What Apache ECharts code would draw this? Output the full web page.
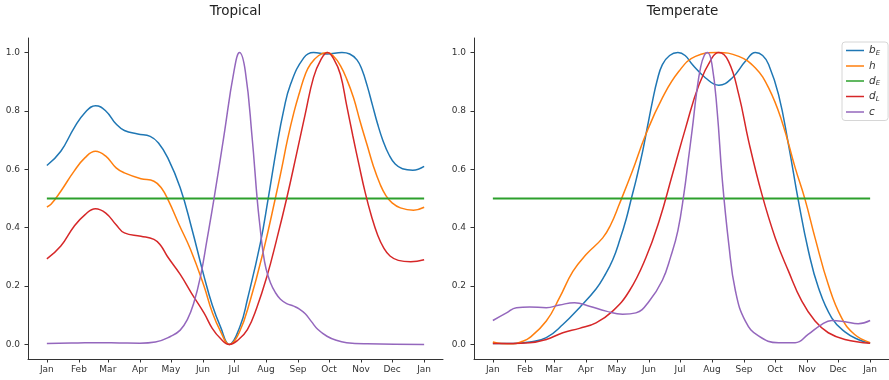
<!DOCTYPE html>
<html>
<head>
<meta charset="utf-8">
<script src="https://cdn.jsdelivr.net/npm/echarts@6/dist/echarts.min.js"></script>
<style>
  html, body { margin: 0; padding: 0; background: #fff; }
  #chart { width: 889px; height: 380px; }
</style>
</head>
<body>
<div id="chart"></div>
<script>
// x is day of year, ticks at month starts
const monthDays = [0, 31, 59, 90, 120, 151, 181, 212, 243, 273, 304, 334, 365]
const monthNames = ['Jan', 'Feb', 'Mar', 'Apr', 'May', 'Jun', 'Jul', 'Aug', 'Sep', 'Oct', 'Nov', 'Dec', 'Jan']
const yTicks = [0, 0.2, 0.4, 0.6, 0.8, 1.0]
const panelTitles = ['Tropical', 'Temperate']
const seriesNames = ['b_E', 'h', 'd_E', 'd_L', 'c']
const colors = ['#1f77b4', '#ff7f0e', '#2ca02c', '#d62728', '#9467bd']

// Tropical
const tropBE = [[0, 0.613], [13.5, 0.662], [26.4, 0.742], [37, 0.795], [47, 0.818], [57, 0.80], [67, 0.755], [75, 0.733],
  [88, 0.721], [100, 0.713], [108, 0.69], [117, 0.639], [129, 0.537], [140, 0.40], [152, 0.234], [160, 0.135], [168, 0.06],
  [176.5, 0], [187, 0.063], [194, 0.154], [206.6, 0.348], [214, 0.497], [222.8, 0.685], [229, 0.80], [235.6, 0.89],
  [248.5, 0.982], [258, 1.0], [271, 0.995], [285.5, 1.0], [293, 0.995], [300, 0.975], [305, 0.94], [310, 0.885],
  [315, 0.82], [320, 0.755], [325, 0.70], [331, 0.65], [337, 0.618], [344, 0.602], [354, 0.597], [365, 0.61]]
const tropH = [[0, 0.471], [4, 0.48], [13.5, 0.525], [26.4, 0.594], [37, 0.64], [47, 0.662], [57, 0.645], [67, 0.605],
  [75, 0.588], [91, 0.568], [103.6, 0.559], [111, 0.535], [118, 0.49], [128, 0.41], [139, 0.325], [152, 0.2], [160, 0.11],
  [168, 0.045], [176.5, 0], [186, 0.04], [197, 0.154], [209.8, 0.325], [221, 0.50], [227, 0.60], [233, 0.705],
  [239, 0.795], [245, 0.87], [250, 0.925], [255, 0.96], [263, 0.99], [271, 1.0], [278, 0.985], [284, 0.955],
  [290, 0.91], [296.7, 0.845], [303, 0.765], [309.7, 0.685], [316, 0.61], [322.5, 0.548], [328, 0.51], [334, 0.485],
  [342, 0.468], [354.7, 0.46], [365, 0.47]]
const tropDE = [[0, 0.5], [365, 0.5]]
const tropDL = [[0, 0.293], [13.5, 0.337], [26.4, 0.405], [37, 0.445], [47, 0.465], [57, 0.45], [67, 0.41], [75, 0.382],
  [91, 0.371], [103.6, 0.36], [110, 0.34], [116.5, 0.302], [129, 0.24], [140, 0.175], [152, 0.108], [160, 0.055],
  [168, 0.02], [176.5, 0], [185, 0.015], [194, 0.051], [203, 0.125], [213, 0.234], [222, 0.355], [232, 0.50],
  [242, 0.66], [250, 0.79], [258, 0.915], [265, 0.975], [271.5, 1.0], [278, 0.975], [284, 0.925], [290, 0.82],
  [296, 0.715], [302, 0.615], [308, 0.52], [314, 0.44], [320, 0.375], [326, 0.33], [332, 0.303], [340, 0.288],
  [352, 0.283], [365, 0.29]]
const tropC = [[0, 0.003], [30, 0.005], [50, 0.006], [70, 0.005], [90, 0.004], [105, 0.008], [120, 0.028], [129, 0.049],
  [136, 0.086], [142, 0.14], [148.7, 0.234], [155, 0.36], [161.6, 0.497], [171, 0.708], [181, 0.936], [186.4, 1.0],
  [192, 0.936], [198.6, 0.708], [203.5, 0.497], [206, 0.41], [209, 0.32], [212, 0.26], [216.3, 0.211], [221, 0.178],
  [226, 0.155], [232, 0.14], [238.8, 0.131], [244, 0.122], [250, 0.105], [256, 0.078], [262, 0.052], [271, 0.028],
  [280, 0.014], [290, 0.006], [310, 0.002], [365, 0.0]]

// Temperate
const tempBE = [[0, 0.003], [20, 0.003], [35.6, 0.008], [51.7, 0.023], [67.7, 0.068], [83.8, 0.126], [99.8, 0.19],
  [108, 0.235], [116, 0.29], [123, 0.36], [129, 0.43], [134, 0.50], [139, 0.57], [144.8, 0.66], [149.5, 0.745],
  [154.4, 0.833], [159, 0.905], [164, 0.959], [171, 0.99], [179, 1.0], [186, 0.99], [193, 0.959], [205.8, 0.913],
  [218.6, 0.888], [231.5, 0.913], [244.3, 0.97], [254, 1.0], [261, 0.99], [266.8, 0.959], [276.4, 0.856], [286, 0.685],
  [295.7, 0.49], [305.3, 0.32], [315, 0.194], [327.8, 0.091], [340.6, 0.043], [353.4, 0.017], [365, 0.004]]
const tempH = [[0, 0.008], [8, 0.003], [19.6, 0.002], [28, 0.01], [35.6, 0.023], [51.7, 0.08], [64.5, 0.16], [77.4, 0.25],
  [90.2, 0.308], [106.3, 0.365], [114, 0.41], [122.3, 0.48], [135, 0.594], [148, 0.72], [164, 0.845], [180, 0.936],
  [196, 0.987], [217, 1.0], [237.9, 0.987], [254, 0.947], [266.8, 0.879], [279.6, 0.765], [292.5, 0.605], [302, 0.497],
  [311.7, 0.365], [324.5, 0.205], [337.4, 0.091], [350, 0.034], [365, 0.006]]
const tempDE = [[0, 0.5], [365, 0.5]]
const tempDL = [[0, 0.003], [35.6, 0.006], [51.7, 0.017], [67.7, 0.04], [83.8, 0.055], [99.8, 0.074], [115.9, 0.114],
  [132, 0.183], [148, 0.297], [160.8, 0.422], [173.7, 0.582], [186.5, 0.742], [199.4, 0.89], [212, 0.982], [218.6, 1.0],
  [228, 0.97], [237.9, 0.856], [247.5, 0.696], [260.3, 0.514], [273.2, 0.365], [286, 0.251], [298.9, 0.148],
  [311.7, 0.08], [324.5, 0.04], [340.6, 0.017], [365, 0.004]]
const tempC = [[0, 0.082], [13.2, 0.108], [22.8, 0.126], [35.6, 0.128], [51.7, 0.126], [64.5, 0.135], [79, 0.143],
  [93.4, 0.131], [109.5, 0.114], [125.5, 0.103], [138.4, 0.108], [151.2, 0.148], [164, 0.22], [172, 0.30], [179, 0.39],
  [185, 0.52], [189, 0.63], [193, 0.74], [197, 0.86], [201, 0.95], [204.5, 0.99], [207.7, 1.0], [212, 0.959],
  [217, 0.8], [221.8, 0.571], [228.3, 0.342], [234.7, 0.183], [244.3, 0.08], [257, 0.029], [276.4, 0.006],
  [292.5, 0.006], [305, 0.034], [318, 0.068], [327.8, 0.082], [340.6, 0.078], [353.4, 0.071], [365, 0.082]]

const panels = [
  [tropBE, tropH, tropDE, tropDL, tropC],
  [tempBE, tempH, tempDE, tempDL, tempC]
]

const legendLabels = {
  b_E: '{v|b}{s|E}',
  h: '{v|h}',
  d_E: '{v|d}{s|E}',
  d_L: '{v|d}{s|L}',
  c: '{v|c}'
}

const font = 'DejaVu Sans'
const axisColor = '#333'

const grids = [
  { left: 28, top: 38, width: 415, height: 321 },
  { left: 474, top: 38, width: 417, height: 321 }
]

const xAxes = grids.map((g, i) => ({
  type: 'value',
  gridIndex: i,
  min: -18.25,
  max: 383.25,
  axisLine: { show: true, onZero: false, lineStyle: { color: axisColor, width: 1 } },
  axisTick: { show: true, customValues: monthDays, length: 3.5, lineStyle: { color: axisColor } },
  axisLabel: {
    customValues: monthDays,
    formatter: (v) => monthNames[monthDays.indexOf(v)],
    color: '#333',
    fontSize: 9,
    margin: 6,
    fontFamily: font
  },
  splitLine: { show: false }
}))

const yAxes = grids.map((g, i) => ({
  type: 'value',
  gridIndex: i,
  min: -0.05,
  max: 1.05,
  axisLine: { show: true, onZero: false, lineStyle: { color: axisColor, width: 1 } },
  axisTick: { show: true, customValues: yTicks, length: 3.5, lineStyle: { color: axisColor } },
  axisLabel: {
    customValues: yTicks,
    formatter: (v) => v.toFixed(1),
    color: '#333',
    fontSize: 9,
    margin: 8,
    fontFamily: font
  },
  splitLine: { show: false }
}))

const series = []
panels.forEach((datas, i) => {
  datas.forEach((d, k) => {
    series.push({
      name: seriesNames[k],
      type: 'line',
      xAxisIndex: i,
      yAxisIndex: i,
      data: d,
      symbol: 'none',
      smooth: 0.45,
      color: colors[k],
      lineStyle: { width: k === 2 ? 2 : 1.5, color: colors[k] },
      silent: true
    })
  })
})

const chart = echarts.init(document.getElementById('chart'))
chart.setOption({
  animation: false,
  title: panelTitles.map((t, i) => ({
    text: t,
    left: grids[i].left + grids[i].width / 2,
    top: 4,
    textAlign: 'center',
    padding: 0,
    textStyle: { fontSize: 13.5, fontWeight: 'normal', color: '#222', fontFamily: font }
  })),
  legend: {
    orient: 'vertical',
    left: 842,
    top: 42,
    data: seriesNames,
    icon: 'rect',
    itemWidth: 18,
    itemHeight: 1.5,
    itemGap: 4,
    padding: [3, 8, 3, 4],
    backgroundColor: 'rgba(255,255,255,0.8)',
    borderColor: '#d6d6d6',
    borderWidth: 1,
    borderRadius: 3,
    selectedMode: false,
    formatter: (n) => legendLabels[n],
    textStyle: {
      rich: {
        v: { fontStyle: 'italic', fontSize: 10.5, fontFamily: font, color: '#333', lineHeight: 12 },
        s: { fontStyle: 'italic', fontSize: 7, fontFamily: font, color: '#333', lineHeight: 8, verticalAlign: 'bottom' }
      }
    }
  },
  grid: grids,
  xAxis: xAxes,
  yAxis: yAxes,
  series: series
})
</script>
</body>
</html>
